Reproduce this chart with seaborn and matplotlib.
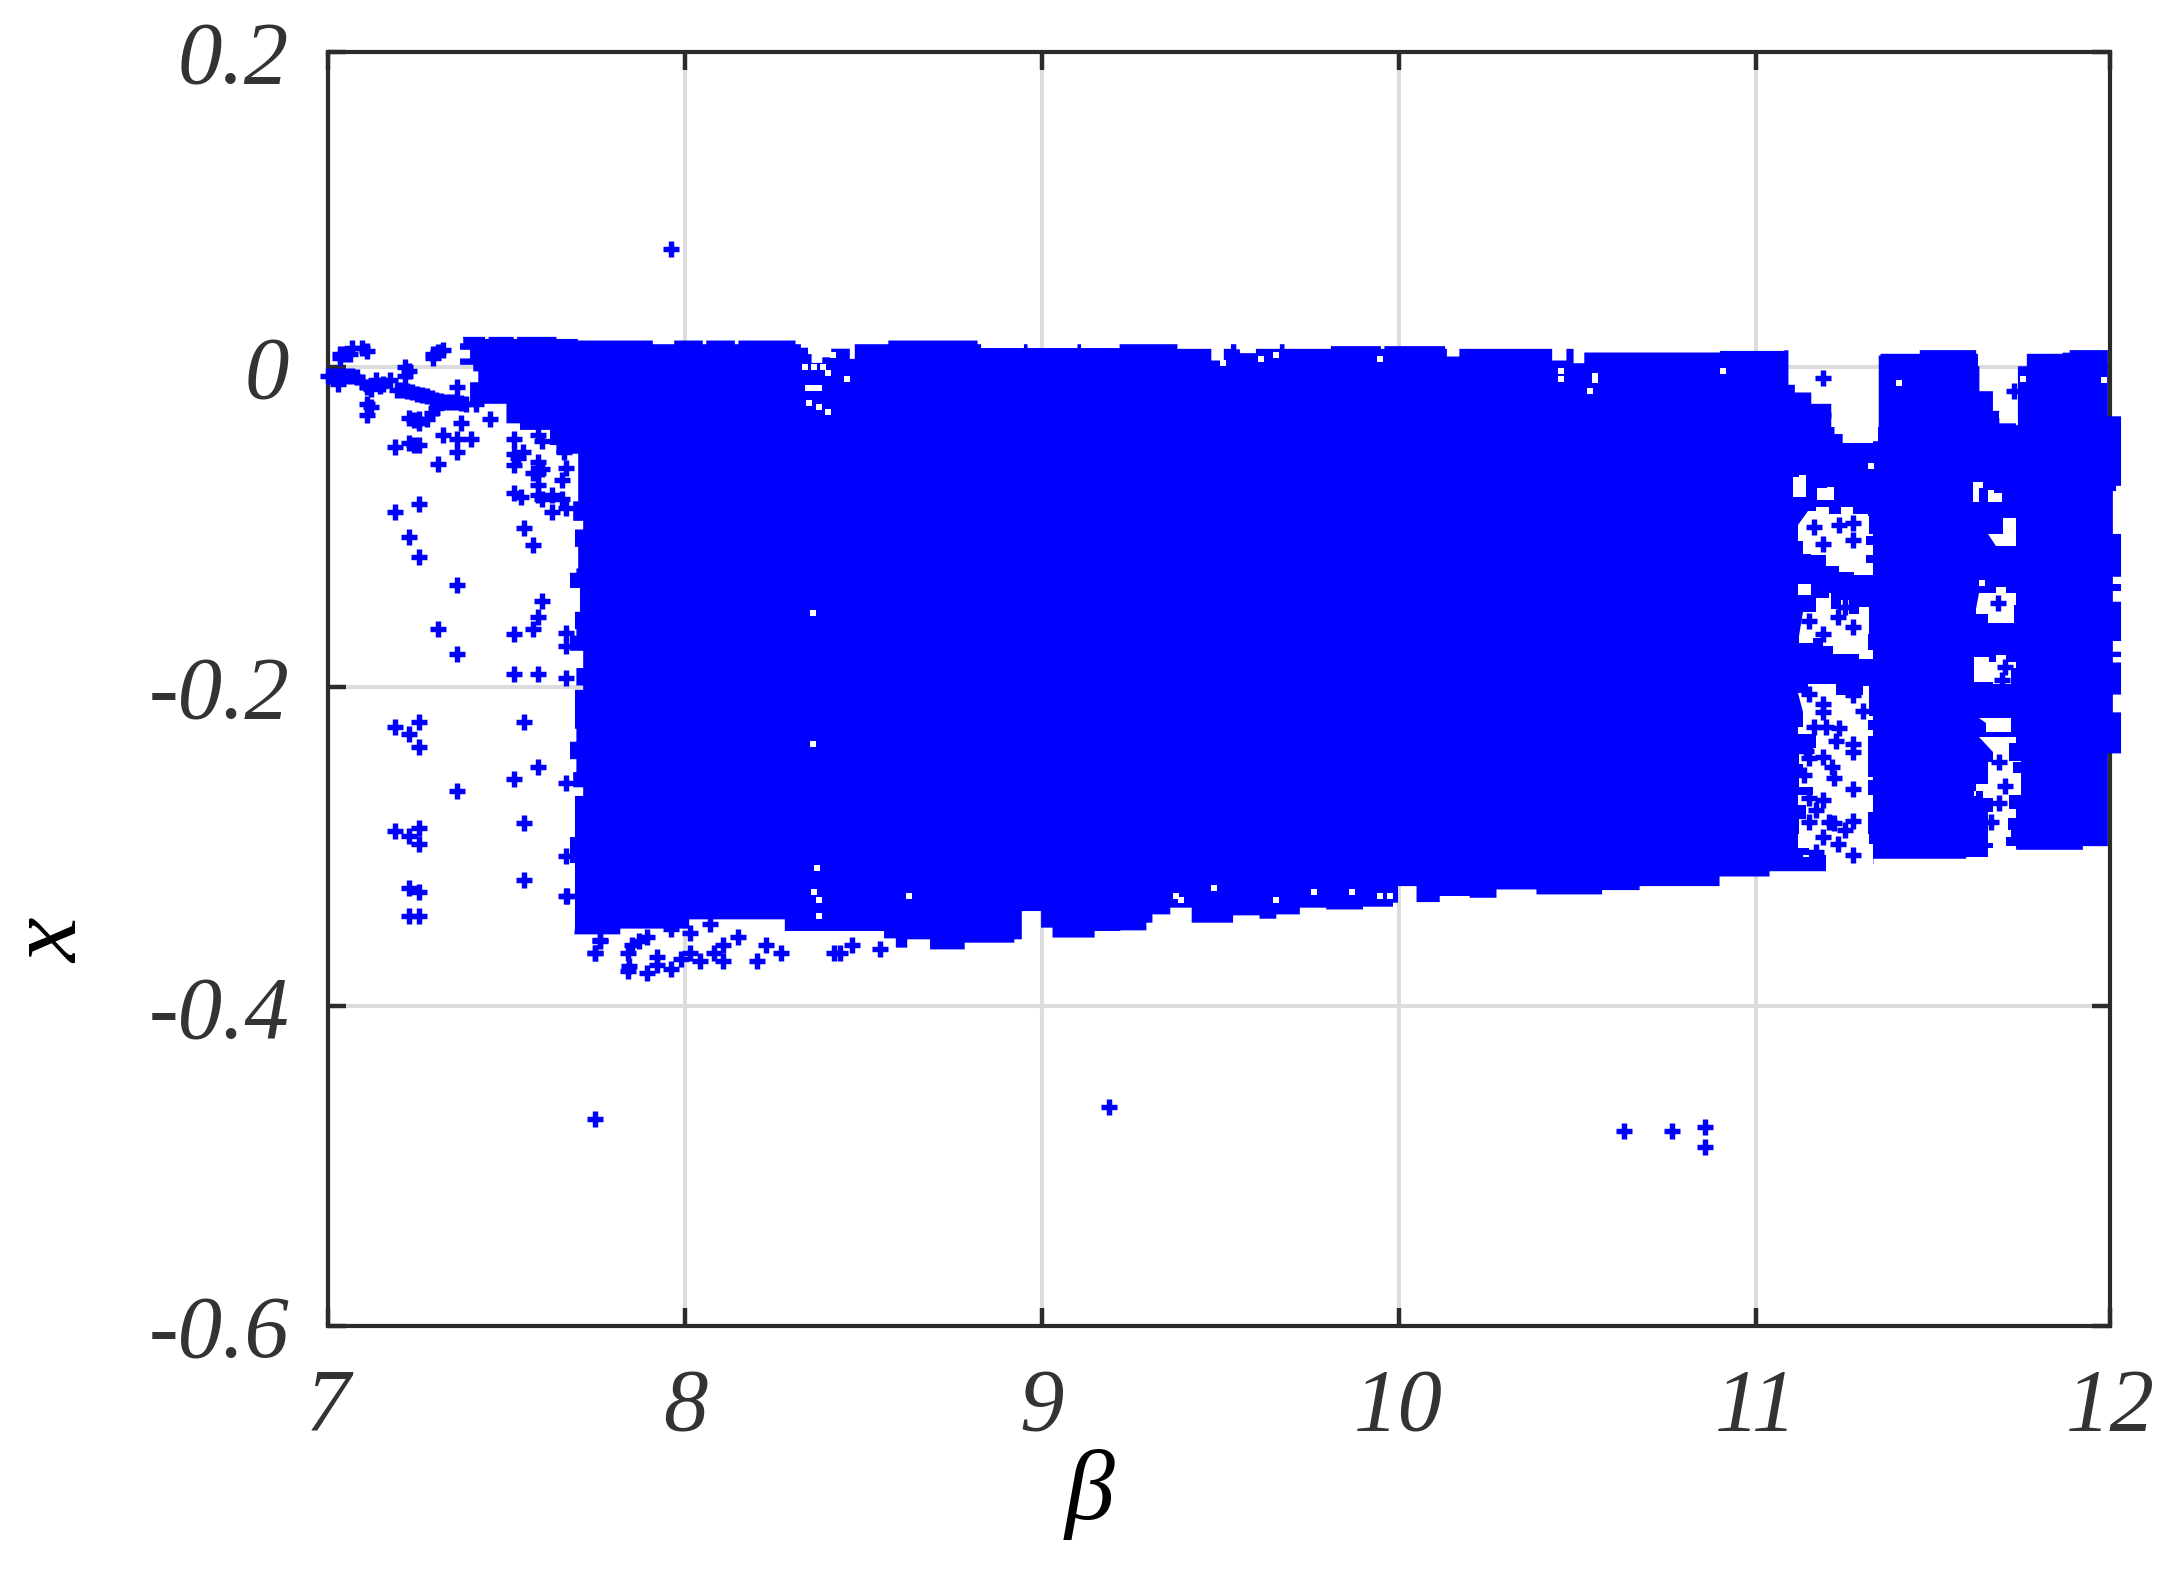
import numpy as np
import pandas as pd
import matplotlib
matplotlib.use("Agg")
import matplotlib.pyplot as plt
import seaborn as sns

# axis limits and ticks
beta_lim = (7, 11.993)
x_lim = (-0.6, 0.197)
beta_ticks = [7, 8, 9, 10, 11, 11.993]
beta_labels = ['7', '8', '9', '10', '11', '12']
x_ticks = [-0.6, -0.4, -0.2, 0, 0.197]
x_labels = ['-0.6', '-0.4', '-0.2', '0', '0.2']

# upper edge of the dense band
top_beta = [7.378, 7.44, 7.45, 7.52, 7.53, 7.64, 7.70, 7.90, 7.91, 7.97, 8.05, 8.06, 8.14, 8.15, 8.31, 8.325, 8.345,
            8.355, 8.378, 8.385, 8.41, 8.46, 8.462, 8.474, 8.476, 8.56, 8.57, 8.82, 8.83, 8.95, 8.96, 9.1, 9.11,
            9.218, 9.37, 9.38, 9.47, 9.475, 9.503, 9.51, 9.53, 9.545, 9.555, 9.585, 9.60, 9.66, 9.667, 9.68,
            9.8, 9.81, 9.95, 9.96, 10.13, 10.135, 10.16, 10.17, 10.29, 10.42, 10.43, 10.455, 10.47, 10.49,
            10.505, 10.52, 10.675, 10.9, 11.08, 11.09, 11.092, 11.11, 11.156, 11.212, 11.221, 11.244, 11.329,
            11.343, 11.345, 11.35, 11.44, 11.46, 11.618, 11.623, 11.627, 11.665, 11.683, 11.73, 11.735, 11.76,
            11.86, 11.88, 11.987]
top_x = [0.0188, 0.0175, 0.0188, 0.0175, 0.0188, 0.0175, 0.0165, 0.0165, 0.0142, 0.0165, 0.0142, 0.0165, 0.0142, 0.0165,
         0.0142, 0.0120, 0.0080, 0.0025, 0.0025, 0.0060, 0.0114, 0.0114, 0.0050, 0.0050, 0.0142, 0.0142, 0.0165,
         0.0142, 0.0118, 0.0142, 0.0118, 0.0142, 0.0118, 0.0142, 0.0142, 0.0113, 0.0113, 0.0040, 0.0040, 0.0113,
         0.0142, 0.0110, 0.0086, 0.0086, 0.0113, 0.0113, 0.0142, 0.0113, 0.0113, 0.0130, 0.0113, 0.0130, 0.0113,
         0.0065, 0.0065, 0.0113, 0.0113, 0.0113, 0.0040, 0.0040, 0.0113, 0.0023, 0.0023, 0.0090, 0.0090, 0.0100,
         0.0104, 0.0104, -0.0112, -0.0160, -0.0231, -0.0376, -0.0420, -0.0476, -0.0465, -0.0376, 0.0071, 0.0082,
         0.0082, 0.0105, 0.0082, 0.0004, -0.0152, -0.0275, -0.0353, -0.0365, 0.0004, 0.0082, 0.0089, 0.0105, 0.0089]

# part beyond the right spine
right_beta = [11.987, 12.010, 12.024, 12.024, 12.010, 12.001, 12.001, 12.024, 12.024, 12.001, 12.024, 12.001, 12.024,
              12.024, 12.001, 12.024, 12.001, 12.024, 12.024, 12.001, 12.024, 12.024, 11.987]
right_x = [-0.0309, -0.0309, -0.0365, -0.0744, -0.0777, -0.0844, -0.1045, -0.1079, -0.1313, -0.1358, -0.1402, -0.1469,
           -0.1514, -0.1715, -0.1782, -0.1815, -0.1849, -0.1938, -0.2050, -0.2161, -0.2206, -0.2418, -0.2440]

# lower edge of the dense band
bottom_beta = [7.69, 7.755, 7.819, 7.948, 8.012, 8.119, 8.221, 8.280, 8.451, 8.558, 8.591, 8.623, 8.687, 8.784, 8.923,
               8.944, 8.998, 9.030, 9.148, 9.22, 9.293, 9.31, 9.345, 9.36, 9.42, 9.46, 9.536, 9.61, 9.657, 9.723,
               9.797, 9.90, 9.984, 9.998, 10.05, 10.115, 10.199, 10.274, 10.386, 10.57, 10.675, 10.899, 11.039,
               11.198, 11.33, 11.59, 11.651, 11.73, 11.917, 11.987]
bottom_x = [-0.355, -0.355, -0.3514, -0.3514, -0.3456, -0.3456, -0.3456, -0.3529, -0.3529, -0.3575, -0.3633, -0.3581,
            -0.3644, -0.3602, -0.3581, -0.3404, -0.3508, -0.357, -0.3529, -0.3525, -0.3477, -0.3425, -0.3425, -0.3383,
            -0.3477, -0.3477, -0.3431, -0.3452, -0.3425, -0.3383, -0.3394, -0.3377, -0.3352, -0.3248, -0.3348,
            -0.3310, -0.3321, -0.3269, -0.3300, -0.3273, -0.3248, -0.3188, -0.3155, -0.3110, -0.3077, -0.3066,
            -0.3010, -0.3021, -0.2998, -0.2998]

# ragged left edge, bottom to top
left_beta = [7.692, 7.692, 7.678, 7.692, 7.692, 7.715, 7.687, 7.696, 7.678, 7.696, 7.692, 7.715, 7.696, 7.715, 7.678,
             7.696, 7.692, 7.706, 7.706, 7.678, 7.696, 7.701, 7.692, 7.715, 7.687, 7.701, 7.701, 7.640, 7.622, 7.538,
             7.500, 7.500, 7.398, 7.398, 7.421, 7.407, 7.370, 7.398, 7.370, 7.379]
left_x = [-0.3511, -0.3104, -0.2941, -0.2874, -0.2684, -0.2630, -0.2535, -0.2454, -0.2345, -0.2264, -0.2020, -0.1993,
          -0.1884, -0.1776, -0.1681, -0.1640, -0.1532, -0.1478, -0.1383, -0.1288, -0.1261, -0.1126, -0.1017, -0.0963,
          -0.0841, -0.0814, -0.0543, -0.0489, -0.0394, -0.0353, -0.0313, -0.0231, -0.0164, -0.0096, -0.0028, 0.0013,
          0.0053, 0.0107, 0.0148, 0.0175]

# gaps in the band near beta 11.2
gap_a_beta = [11.146, 11.170, 11.207, 11.240, 11.272, 11.314, 11.319, 11.330, 11.310, 11.329, 11.310, 11.329, 11.277,
              11.235, 11.198, 11.198, 11.156, 11.132, 11.118]
gap_a_x = [-0.0900, -0.0878, -0.0923, -0.0878, -0.0923, -0.0934, -0.1045, -0.1056, -0.1112, -0.1179, -0.1224, -0.1302,
           -0.1280, -0.1246, -0.1224, -0.1179, -0.1168, -0.1090, -0.0989]
gap_b_beta = [11.132, 11.170, 11.207, 11.212, 11.240, 11.263, 11.263, 11.291, 11.319, 11.319, 11.314, 11.329, 11.291,
              11.216, 11.188, 11.160, 11.123]
gap_b_x = [-0.1536, -0.1447, -0.1414, -0.1514, -0.1458, -0.1458, -0.1547, -0.1503, -0.1536, -0.1670, -0.1771, -0.1827,
           -0.1793, -0.1748, -0.1693, -0.1726, -0.1682]
gap_c_beta = [11.118, 11.146, 11.207, 11.226, 11.300, 11.319, 11.319, 11.329, 11.314, 11.329, 11.314, 11.314, 11.329,
              11.314, 11.329, 11.314, 11.319, 11.330, 11.330, 11.198, 11.198, 11.132, 11.151, 11.118, 11.123, 11.142,
              11.118, 11.160, 11.123, 11.132, 11.123, 11.160, 11.170, 11.118, 11.132]
gap_c_x = [-0.2039, -0.1983, -0.1983, -0.2050, -0.1994, -0.2050, -0.2184, -0.2206, -0.2273, -0.2306, -0.2452, -0.2563,
           -0.2585, -0.2675, -0.2786, -0.2920, -0.2987, -0.3077, -0.3155, -0.3155, -0.3054, -0.3065, -0.3010, -0.2920,
           -0.2831, -0.2742, -0.2675, -0.2630, -0.2563, -0.2485, -0.2407, -0.2385, -0.2295, -0.2251, -0.2161]
gap_d_beta = [11.104, 11.122, 11.142, 11.142, 11.104]
gap_d_x = [-0.0690, -0.0677, -0.0720, -0.0811, -0.0790]
gap_e_beta = [11.172, 11.200, 11.221, 11.221, 11.172]
gap_e_x = [-0.0755, -0.0750, -0.0800, -0.0833, -0.0833]
gap_f_beta = [11.118, 11.156, 11.156, 11.118]
gap_f_x = [-0.1358, -0.1358, -0.1425, -0.1425]

# gaps in the band near beta 11.7
gap_g_beta = [11.610, 11.637, 11.627, 11.610]
gap_g_x = [-0.0722, -0.0755, -0.0844, -0.0822]
gap_h_beta = [11.651, 11.669, 11.691, 11.651]
gap_h_x = [-0.0773, -0.0789, -0.0844, -0.0844]
gap_i_beta = [11.651, 11.693, 11.730, 11.730, 11.674]
gap_i_x = [-0.1045, -0.0945, -0.0945, -0.1123, -0.1123]
gap_j_beta = [11.627, 11.674, 11.702, 11.730, 11.725, 11.674, 11.651, 11.618]
gap_j_x = [-0.1414, -0.1380, -0.1414, -0.1492, -0.1603, -0.1603, -0.1547, -0.1514]
gap_k_beta = [11.613, 11.655, 11.674, 11.702, 11.730, 11.716, 11.665, 11.613]
gap_k_x = [-0.1815, -0.1849, -0.1804, -0.1849, -0.1882, -0.1983, -0.1972, -0.1916]
gap_l_beta = [11.627, 11.674, 11.716, 11.716, 11.679, 11.646]
gap_l_x = [-0.2195, -0.2195, -0.2217, -0.2284, -0.2284, -0.2228]
gap_m_beta = [11.627, 11.674, 11.730, 11.711, 11.744, 11.721, 11.744, 11.744, 11.711, 11.730, 11.707, 11.716, 11.702,
              11.730, 11.730, 11.651, 11.651, 11.665, 11.651, 11.651, 11.665, 11.637, 11.613, 11.618, 11.651, 11.651,
              11.665]
gap_m_x = [-0.2318, -0.2318, -0.2351, -0.2463, -0.2474, -0.2541, -0.2585, -0.2675, -0.2764, -0.2820, -0.2898, -0.2943,
           -0.2998, -0.3032, -0.3099, -0.3099, -0.3010, -0.2976, -0.2920, -0.2786, -0.2697, -0.2653, -0.2686, -0.2608,
           -0.2585, -0.2474, -0.2407]

# single empty cells inside the band
hole_beta = [8.416, 8.336, 8.362, 8.388, 8.402, 8.455, 8.345, 8.360, 8.375, 8.376, 8.402, 8.347, 8.36, 8.36, 9.507,
             9.615, 9.655, 9.949, 10.456, 10.456, 10.55, 10.55, 10.536, 10.910, 11.403, 11.324, 11.750, 11.977, 8.369,
             8.362, 8.375, 8.375, 8.628, 9.483, 9.375, 9.389, 9.869, 9.763, 9.655, 9.949, 9.976, 11.690, 11.635]
hole_x = [0.0075, 0.0002, 0.0002, 0.0002, -0.0039, -0.0077, -0.0133, -0.0133, -0.0133, -0.0252, -0.0279, -0.0227,
          -0.1538, -0.2356, 0.0027, 0.0052, 0.0077, 0.0052, -0.0023, -0.0073, -0.0060, -0.0080, -0.0150, -0.0023,
          -0.0101, -0.0617, -0.0074, -0.0085, -0.3133, -0.3285, -0.3335, -0.3437, -0.3310, -0.3262, -0.3310, -0.3337,
          -0.3285, -0.3285, -0.3337, -0.3310, -0.3310, -0.0300, -0.1350]

# scattered points, left of the band
left_pts_beta = [7.188, 7.228, 7.255, 7.240, 7.321, 7.361, 7.402, 7.361, 7.308, 7.521, 7.588, 7.601,
                 7.255, 7.188, 7.228, 7.255, 7.361, 7.548, 7.575, 7.601, 7.588, 7.575, 7.308, 7.521, 7.668, 7.668,
                 7.361, 7.521, 7.588, 7.668, 7.255, 7.188, 7.548, 7.228, 7.255, 7.588, 7.521, 7.668, 7.361,
                 7.548, 7.255, 7.188, 7.228, 7.255, 7.668, 7.548, 7.228, 7.255, 7.668, 7.228, 7.255, 7.761, 7.748]
left_pts_x = [-0.0502, -0.0475, -0.0489, -0.0489, -0.0429, -0.0448, -0.0454, -0.0530, -0.0605, -0.0454, -0.0429, -0.0462,
              -0.0860, -0.0909, -0.1061, -0.1188, -0.1364, -0.1009, -0.1112, -0.1464, -0.1565, -0.1641, -0.1641,
              -0.1668, -0.1662, -0.1744, -0.1795, -0.1922, -0.1922, -0.1947, -0.2223, -0.2250, -0.2223, -0.2299,
              -0.2378, -0.2502, -0.2578, -0.2603, -0.2654, -0.2855, -0.2882, -0.2906, -0.2933, -0.2985, -0.3058,
              -0.3212, -0.3261, -0.3286, -0.3310, -0.3437, -0.3437, -0.3586, -0.3665]

# thin branch running from beta 7 into the band
branch_beta = [7.001, 7.014, 7.027, 7.040, 7.054, 7.067, 7.080, 7.094, 7.108, 7.121, 7.134, 7.145, 7.155, 7.174, 7.192,
               7.206, 7.220, 7.234, 7.248, 7.262, 7.276, 7.290, 7.304, 7.318, 7.332, 7.346, 7.360, 7.374, 7.388, 7.416,
               7.304, 7.290, 7.276, 7.255, 7.228, 7.242, 7.255, 7.108, 7.121, 7.108, 7.027, 7.454, 7.374]
branch_x = [-0.0055, -0.0055, -0.0055, -0.0055, -0.0055, -0.0058, -0.0063, -0.0096, -0.0123, -0.0137, -0.0082, -0.0120,
            -0.0109, -0.0082, -0.0142, -0.0146, -0.0150, -0.0160, -0.0172, -0.0178, -0.0183, -0.0193, -0.0204, -0.0211,
            -0.0218, -0.0218, -0.0218, -0.0225, -0.0231, -0.0231, -0.0259, -0.0291, -0.0326, -0.0353, -0.0318, -0.0330,
            -0.0326, -0.0231, -0.0253, -0.0299, -0.0109, -0.0326, -0.0353]

# small clusters above the branch
upper_pts_beta = [7.048, 7.068, 7.034, 7.094, 7.108, 7.062, 7.034, 7.295, 7.321, 7.295, 7.308, 7.215, 7.228, 7.215, 7.361]
upper_pts_x = [0.0080, 0.0121, 0.0053, 0.0121, 0.0099, 0.0080, 0.0080, 0.0080, 0.0107, 0.0053, 0.0094, 0.0000, -0.0023,
               -0.0055, -0.0123]

# cluster touching the band near beta 7.6
near_pts_beta = [7.521, 7.547, 7.533, 7.521, 7.588, 7.588, 7.575, 7.601, 7.588, 7.668, 7.655, 7.521, 7.542, 7.588, 7.601,
                 7.628, 7.655, 7.628, 7.668, 7.662]
near_pts_x = [-0.0543, -0.0530, -0.0570, -0.0611, -0.0597, -0.0665, -0.0665, -0.0638, -0.0741, -0.0632, -0.0706, -0.0787,
              -0.0814, -0.0801, -0.0828, -0.0801, -0.0828, -0.0909, -0.0882, -0.0530]

# fringe under the band
fringe_beta = [7.669, 7.762, 7.749, 7.840, 7.851, 7.894, 7.872, 7.840, 7.842, 7.894, 7.921, 7.921, 7.961, 7.961, 8.015,
               8.069, 8.015, 7.990, 8.042, 8.082, 8.108, 8.108, 8.149, 8.201, 8.228, 8.269, 8.435, 8.419, 8.467, 8.548]
fringe_x = [-0.331, -0.3591, -0.3669, -0.3669, -0.3619, -0.3566, -0.3591, -0.3779, -0.3750, -0.3794, -0.3691, -0.3744,
            -0.3769, -0.3514, -0.3539, -0.3487, -0.3669, -0.3706, -0.3716, -0.3669, -0.3619, -0.3716, -0.3566, -0.3716,
            -0.3619, -0.3669, -0.3669, -0.3669, -0.3619, -0.3643]

# points left inside the gaps
gap_pts_beta = [11.235, 11.272, 11.272, 11.190, 11.230, 11.272, 11.149, 11.190, 11.149, 11.272, 11.190, 11.190, 11.165,
                11.198, 11.235, 11.272, 11.272, 11.226, 11.190, 11.149, 11.137, 11.221, 11.272, 11.149, 11.190, 11.170,
                11.221, 11.272, 11.190, 11.230, 11.272, 11.170, 11.683, 11.683, 11.679, 11.190, 11.190, 11.725,
                11.165, 11.250, 11.215, 11.140, 11.205, 11.300, 11.250, 11.150, 11.700, 11.660, 11.700, 11.690]
gap_pts_x = [-0.0989, -0.0974, -0.1085, -0.1108, -0.1563, -0.1626, -0.1592, -0.1670, -0.2045, -0.2054, -0.2106, -0.2161,
             -0.2251, -0.2251, -0.2262, -0.2362, -0.2407, -0.2340, -0.2440, -0.2447, -0.2552, -0.2574, -0.2641, -0.2697,
             -0.2708, -0.2775, -0.2853, -0.2842, -0.2943, -0.2987, -0.3054, -0.3032, -0.2474, -0.2731, -0.1480, -0.0069,
             -0.0298, -0.0150, -0.1000, -0.1500, -0.2500, -0.2400, -0.2850, -0.2150, -0.2900, -0.2850, -0.2620, -0.2850,
             -0.1880, -0.1960]

# isolated outliers
outlier_beta = [7.960, 7.748, 9.187, 10.630, 10.765, 10.857, 10.857]
outlier_x = [0.0738, -0.4706, -0.4629, -0.4779, -0.4779, -0.4756, -0.4881]


def stairs(b, v):
    # turn an edge into pixel like steps
    return np.repeat(b, 2)[1:], np.repeat(v, 2)[:-1]


sns.set_style('white')
plt.rcParams['font.family'] = ['Liberation Serif', 'DejaVu Serif']

fig = plt.figure(figsize=(21.81, 15.77), dpi=100)
ax = fig.add_axes([328 / 2181, 1 - 1326 / 1577, 1782 / 2181, 1274 / 1577])

blue = '#0000ff'
dark = '#2b2b2b'

ax.set_xlim(*beta_lim)
ax.set_ylim(*x_lim)
ax.grid(True, color='#dcdcdc', linewidth=2.9, zorder=0)
ax.set_axisbelow(True)

# dense band outline
top_b, top_v = stairs(top_beta, top_x)
right_b, right_v = stairs(right_beta, right_x)
bot_b, bot_v = stairs(bottom_beta, bottom_x)
left_b, left_v = stairs(left_beta, left_x)
band_b = np.concatenate([top_b, right_b, bot_b[::-1], left_b])
band_v = np.concatenate([top_v, right_v, bot_v[::-1], left_v])
ax.fill(band_b, band_v, color=blue, linewidth=0, zorder=3, clip_on=False)

# the speckled gaps
gaps = [(gap_a_beta, gap_a_x), (gap_b_beta, gap_b_x), (gap_c_beta, gap_c_x), (gap_d_beta, gap_d_x),
        (gap_e_beta, gap_e_x), (gap_f_beta, gap_f_x), (gap_g_beta, gap_g_x), (gap_h_beta, gap_h_x),
        (gap_i_beta, gap_i_x), (gap_j_beta, gap_j_x), (gap_k_beta, gap_k_x), (gap_l_beta, gap_l_x),
        (gap_m_beta, gap_m_x)]
for gb, gv in gaps:
    sb, sv = stairs(gb, gv)
    ax.fill(sb, sv, color='white', linewidth=0, zorder=3.1)

sns.scatterplot(x=hole_beta, y=hole_x, marker='s', s=13, color='white', linewidth=0, zorder=3.2, ax=ax)

# all the plus markers
pts = pd.DataFrame({
    'beta': left_pts_beta + branch_beta + upper_pts_beta + near_pts_beta + fringe_beta + gap_pts_beta + outlier_beta,
    'x': left_pts_x + branch_x + upper_pts_x + near_pts_x + fringe_x + gap_pts_x + outlier_x,
})
sns.scatterplot(data=pts, x='beta', y='x', marker='+', s=120, color=blue, linewidth=3.9, zorder=4,
                clip_on=False, ax=ax)

ax.set_xticks(beta_ticks, labels=beta_labels)
ax.set_yticks(x_ticks, labels=x_labels)
ax.tick_params(axis='both', direction='in', length=13, width=3.2, color=dark, top=True, right=True, bottom=True,
               left=True, labelcolor='#333333', labelsize=64)
ax.tick_params(axis='x', pad=30)
ax.tick_params(axis='y', pad=28)
for lab in ax.get_xticklabels() + ax.get_yticklabels():
    lab.set_fontstyle('italic')

for sp in ax.spines.values():
    sp.set_visible(True)
    sp.set_color(dark)
    sp.set_linewidth(3)

ax.set_xlabel('β', fontsize=72, fontstyle='italic', color='black', va='top')
ax.xaxis.set_label_coords(0.4276, -0.0965)
ax.set_ylabel('x', fontsize=72, fontstyle='italic', color='black', va='center', rotation=90)
ax.yaxis.set_label_coords(-0.1543, 0.302)

fig.savefig('out.png', dpi=100)
